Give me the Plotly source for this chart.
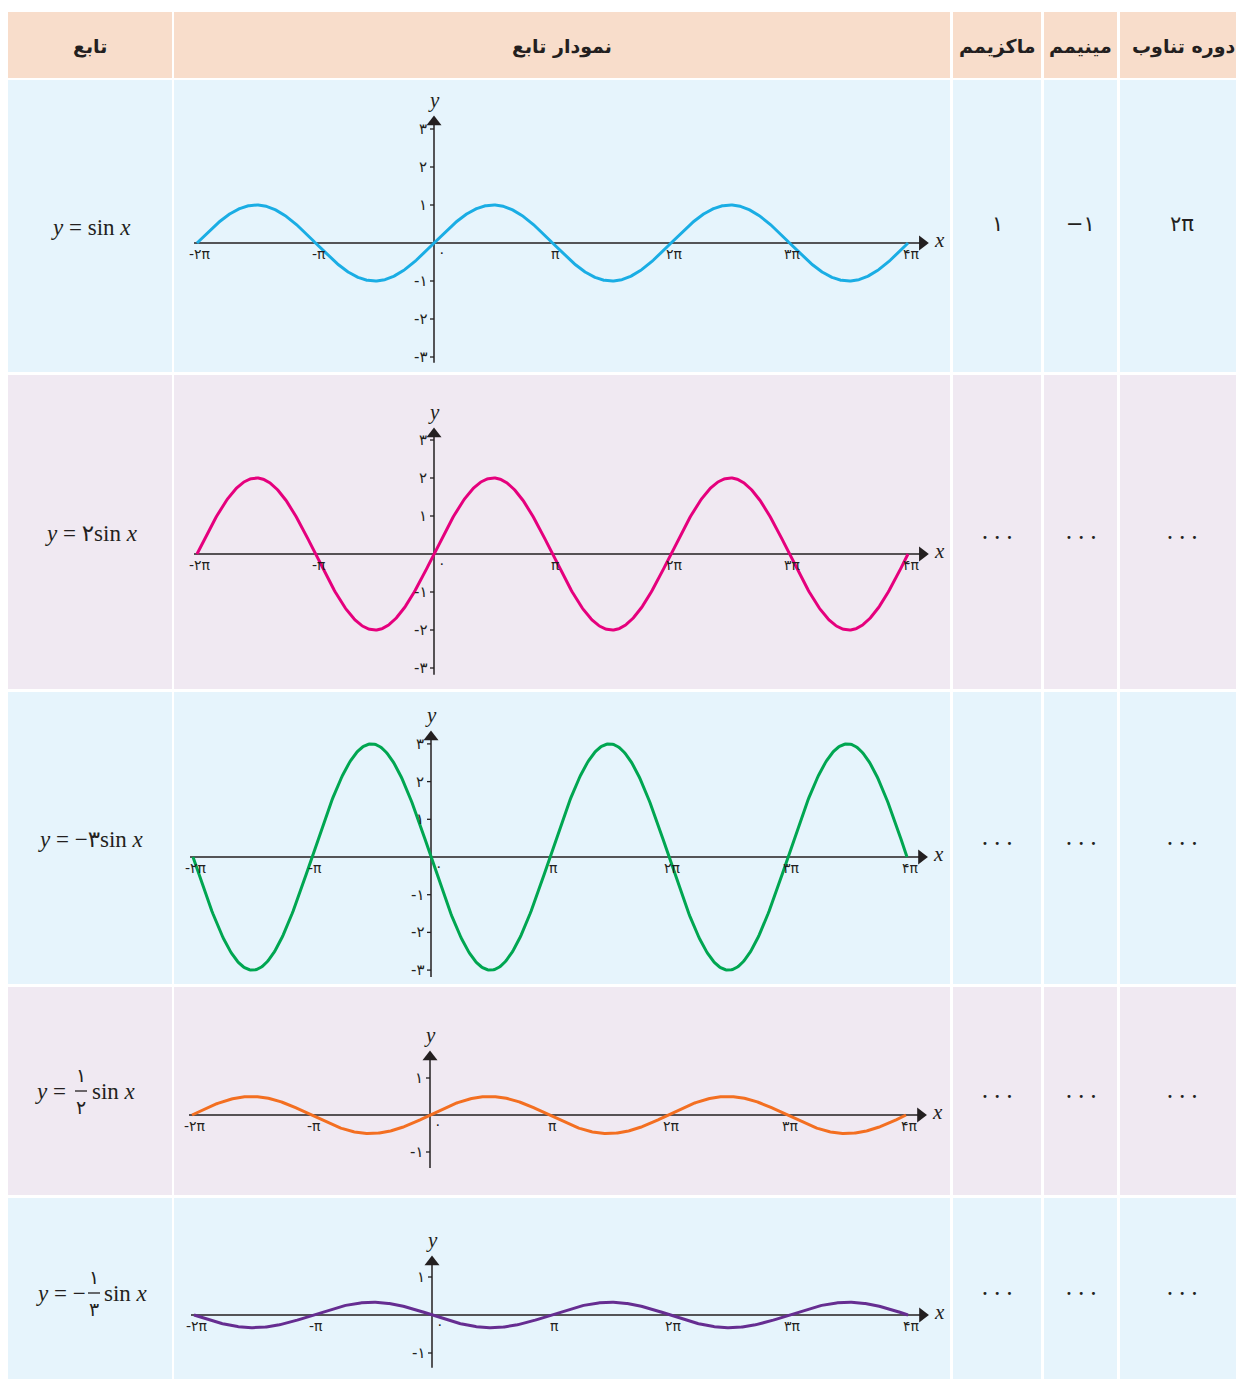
import numpy as np
import plotly.graph_objects as go

# ---------------- data ----------------
headers = ["تابع", "نمودار تابع", "ماکزیمم", "مینیمم", "دوره تناوب"]
amplitudes = [1, 2, -3, 1 / 2, -1 / 3]
curve_colors = ["#1AADE4", "#E5007D", "#00A651", "#F36F21", "#662D91"]
max_values = ["۱", "•", "•", "•", "•"]
min_values = ["−۱", "•", "•", "•", "•"]
period_values = ["۲π", "•", "•", "•", "•"]
x_tick_multiples = [-2, -1, 1, 2, 3, 4]
x_tick_labels = ["-۲π", "-π", "π", "۲π", "۳π", "۴π"]
y_ticks_big = [-3, -2, -1, 1, 2, 3]
y_ticks_small = [-1, 1]
y_tick_text = {-3: "-۳", -2: "-۲", -1: "-۱", 1: "۱", 2: "۲", 3: "۳"}
row_y_ticks = [y_ticks_big, y_ticks_big, y_ticks_big, y_ticks_small, y_ticks_small]

# ---------------- layout constants (pixels of the page) ----------------
W, H = 1236, 1379
header_band = (12, 78)
col_px = [(8, 172), (174, 950), (953, 1041), (1044, 1117), (1120, 1236)]
row_px = [(80, 372), (375, 689), (692, 984), (987, 1195), (1198, 1379)]
row_bg = ["#E6F4FC", "#F0E9F2", "#E6F4FC", "#F0E9F2", "#E6F4FC"]
header_bg = "#F8DDCB"
x0_px = [434, 434, 431, 430, 432]
y0_px = [243, 554, 857, 1115, 1315]
px_per_pi = [118.5, 118.5, 119.0, 119.0, 119.0]
px_per_unit = [38.0, 38.0, 37.7, 37.0, 38.0]
y_axis_lo = [-3.15, -3.18, -3.18, -1.43, -1.39]
y_axis_hi = [3.37, 3.34, 3.37, 1.76, 1.58]
x_axis_hi_pi = 4.18
axis_color = "#231F20"
text_color = "#231F20"


def fx(px):
    return px / W


def fy(py):
    return 1 - py / H


def ptext(x, y, text, size, family="DejaVu Sans", xanchor="center", yanchor="middle", **kw):
    return dict(xref="paper", yref="paper", x=fx(x), y=fy(y), text=text, showarrow=False,
                xanchor=xanchor, yanchor=yanchor,
                font=dict(family=family, size=size, color=text_color), **kw)


fig = go.Figure()
shapes = []
annotations = []

# header cells
for (a, b) in col_px:
    shapes.append(dict(type="rect", xref="paper", yref="paper", x0=fx(a), x1=fx(b),
                       y0=fy(header_band[1]), y1=fy(header_band[0]),
                       fillcolor=header_bg, line=dict(width=0), layer="below"))
header_centers = [90, 562, 997, 1080, 1184]
for t, cx in zip(headers, header_centers):
    annotations.append(ptext(cx, 46, "<b>" + t + "</b>", 19))

# row backgrounds
for r, (top, bot) in enumerate(row_px):
    for (a, b) in col_px:
        shapes.append(dict(type="rect", xref="paper", yref="paper", x0=fx(a), x1=fx(b),
                           y0=fy(bot), y1=fy(top), fillcolor=row_bg[r], line=dict(width=0), layer="below"))

serif = "Liberation Serif, DejaVu Serif, DejaVu Sans"
fsize = 23

# formulas column
formula_simple = {0: "<i>y</i> = sin <i>x</i>", 1: "<i>y</i> = ۲sin <i>x</i>", 2: "<i>y</i> = −۳sin <i>x</i>"}
for r, txt in formula_simple.items():
    cy = (row_px[r][0] + row_px[r][1]) / 2 + 1
    annotations.append(ptext(91, cy, txt, fsize, family=serif))

# fraction formulas
frac_rows = [
    dict(left="<i>y</i> = ", left_end=74, fc=81, num="۱", den="۲", base=1091, right_start=90),
    dict(left="<i>y</i> = −", left_end=88, fc=94, num="۱", den="۳", base=1293, right_start=102),
]
for f in frac_rows:
    annotations.append(ptext(f["left_end"], f["base"], f["left"], fsize, family=serif, xanchor="right"))
    annotations.append(ptext(f["right_start"], f["base"], "sin <i>x</i>", fsize, family=serif, xanchor="left"))
    annotations.append(ptext(f["fc"], f["base"] - 16, f["num"], 19))
    annotations.append(ptext(f["fc"], f["base"] + 16, f["den"], 19))
    shapes.append(dict(type="line", xref="paper", yref="paper", x0=fx(f["fc"] - 6), x1=fx(f["fc"] + 6),
                       y0=fy(f["base"]), y1=fy(f["base"]), line=dict(color=text_color, width=1.3)))

# value columns
for r in range(5):
    cy = (row_px[r][0] + row_px[r][1]) / 2
    for c, vals in zip([2, 3, 4], [max_values, min_values, period_values]):
        cx = (col_px[c][0] + col_px[c][1]) / 2 + (4 if c == 4 else 0)
        v = vals[r]
        if v == "•":
            annotations.append(ptext(cx, cy + 5, "•  •  •", 10))
        else:
            annotations.append(ptext(cx, cy - 2, v, 21))

# plots
layout_axes = {}
for r in range(5):
    n = "" if r == 0 else str(r + 1)
    top, bot = row_px[r]
    a, b = col_px[1]
    ppp = px_per_pi[r] / np.pi  # px per radian
    ppu = px_per_unit[r]
    xr = [(a - x0_px[r]) / ppp, (b - x0_px[r]) / ppp]
    yr = [-(bot - y0_px[r]) / ppu, (y0_px[r] - top) / ppu]
    layout_axes["xaxis" + n] = dict(domain=[fx(a), fx(b)], range=xr, visible=False, fixedrange=True,
                                    anchor="y" + n)
    layout_axes["yaxis" + n] = dict(domain=[fy(bot), fy(top)], range=yr, visible=False, fixedrange=True,
                                    anchor="x" + n)
    xa, ya = "x" + n, "y" + n

    # axes lines
    x_lo = -2 * np.pi - 3 / ppp
    x_hi = x_axis_hi_pi * np.pi
    fig.add_trace(go.Scatter(x=[x_lo, x_hi - 8 / ppp], y=[0, 0], mode="lines", xaxis=xa, yaxis=ya,
                             line=dict(color=axis_color, width=1.5), hoverinfo="skip", showlegend=False))
    fig.add_trace(go.Scatter(x=[0, 0], y=[y_axis_lo[r], y_axis_hi[r] - 8 / ppu], mode="lines", xaxis=xa, yaxis=ya,
                             line=dict(color=axis_color, width=1.5), hoverinfo="skip", showlegend=False))
    # y ticks
    for v in row_y_ticks[r]:
        shapes.append(dict(type="line", xref=xa, yref=ya, x0=-4 / ppp, x1=0, y0=v, y1=v,
                           line=dict(color=axis_color, width=1.3)))
        annotations.append(dict(xref=xa, yref=ya, x=0, y=v, text=y_tick_text[v], xanchor="right",
                                yanchor="middle", xshift=-5, showarrow=False,
                                font=dict(family="DejaVu Sans", size=15, color=text_color)))
    # x tick labels
    for k, lab in zip(x_tick_multiples, x_tick_labels):
        annotations.append(dict(xref=xa, yref=ya, x=k * np.pi, y=0, text=lab, xanchor="center",
                                yanchor="middle", yshift=-11, xshift=3, showarrow=False,
                                font=dict(family="DejaVu Sans", size=14, color=text_color)))
    annotations.append(dict(xref=xa, yref=ya, x=0, y=0, text="۰", xanchor="center", yanchor="middle",
                            yshift=-9, xshift=8, showarrow=False,
                            font=dict(family="DejaVu Sans", size=14, color=text_color)))
    # axis names
    annotations.append(dict(xref=xa, yref=ya, x=0, y=y_axis_hi[r], text="<i>y</i>", xanchor="center",
                            yanchor="middle", yshift=15, showarrow=False,
                            font=dict(family=serif, size=21, color=text_color)))
    annotations.append(dict(xref=xa, yref=ya, x=x_hi, y=0, text="<i>x</i>", xanchor="left",
                            yanchor="middle", xshift=3, yshift=3, showarrow=False,
                            font=dict(family=serif, size=21, color=text_color)))

    # curve
    xs = np.linspace(-2 * np.pi, 4 * np.pi, 721)
    fig.add_trace(go.Scatter(x=xs, y=amplitudes[r] * np.sin(xs), mode="lines", xaxis=xa, yaxis=ya,
                             line=dict(color=curve_colors[r], width=3),
                             hoverinfo="skip", showlegend=False))

    # arrow heads
    fig.add_trace(go.Scatter(x=[x_hi - 7 / ppp], y=[0], mode="markers", xaxis=xa, yaxis=ya,
                             marker=dict(symbol="triangle-right", size=13, color=axis_color),
                             hoverinfo="skip", showlegend=False))
    fig.add_trace(go.Scatter(x=[0], y=[y_axis_hi[r] - 7 / ppu], mode="markers", xaxis=xa, yaxis=ya,
                             marker=dict(symbol="triangle-up", size=13, color=axis_color),
                             hoverinfo="skip", showlegend=False))

fig.update_layout(
    width=W, height=H, margin=dict(l=0, r=0, t=0, b=0),
    paper_bgcolor="white", plot_bgcolor="rgba(0,0,0,0)",
    shapes=shapes, annotations=annotations, showlegend=False,
    **layout_axes,
)
fig.write_html("out.html", config={"displayModeBar": False},
               post_script="document.body.style.margin='0';document.body.style.overflow='hidden';")
